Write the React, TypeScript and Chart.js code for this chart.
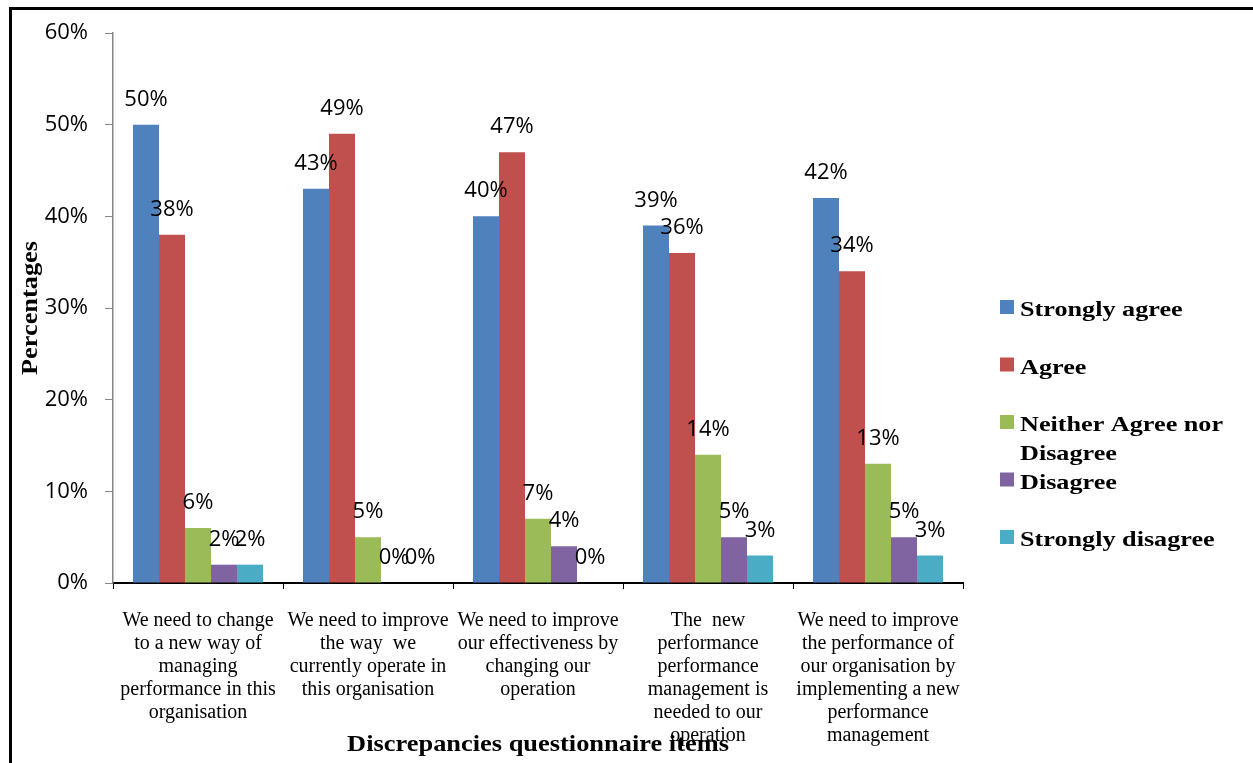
import React, { useEffect, useRef } from "react";
import { Chart, registerables } from "chart.js";

Chart.register(...registerables);

const categories: string[][] = [
  ["We need to change", "to a new way of", "managing", "performance in this", "organisation"],
  ["We need to improve", "the way  we", "currently operate in", "this organisation"],
  ["We need to improve", "our effectiveness by", "changing our", "operation"],
  ["The  new", "performance", "performance", "management is", "needed to our", "operation"],
  ["We need to improve", "the performance of", "our organisation by", "implementing a new", "performance", "management"],
];

const seriesNames = ["Strongly agree", "Agree", "Neither Agree nor Disagree", "Disagree", "Strongly disagree"];
const legendLines: string[][] = [["Strongly agree"], ["Agree"], ["Neither Agree nor", "Disagree"], ["Disagree"], ["Strongly disagree"]];

const stronglyAgree = [50, 43, 40, 39, 42];
const agree = [38, 49, 47, 36, 34];
const neither = [6, 5, 7, 14, 13];
const disagree = [2, 0, 4, 5, 5];
const stronglyDisagree = [2, 0, 0, 3, 3];

const colors = ["#4F81BD", "#C0504D", "#9BBB59", "#8064A2", "#4BACC6"];
const yTickLabels = ["0%", "10%", "20%", "30%", "40%", "50%", "60%"];

const xTitle = "Discrepancies questionnaire items";
const yTitle = "Percentages";

function drawStretched(ctx: CanvasRenderingContext2D, text: string, x: number, y: number, sx: number, rot = 0) {
  ctx.save();
  ctx.translate(x, y);
  if (rot) ctx.rotate(rot);
  ctx.scale(sx, 1);
  ctx.fillText(text, 0, 0);
  ctx.restore();
}

const decorPlugin = {
  id: "decor",
  afterDraw(chart: any) {
    const ctx: CanvasRenderingContext2D = chart.ctx;
    const area = chart.chartArea;
    ctx.save();
    // data labels
    ctx.font = '22px "Open Sans"';
    ctx.fillStyle = "#000";
    ctx.textAlign = "center";
    ctx.textBaseline = "alphabetic";
    chart.data.datasets.forEach((ds: any, i: number) => {
      const meta = chart.getDatasetMeta(i);
      meta.data.forEach((bar: any, j: number) => {
        ctx.fillText(ds.data[j] + "%", bar.x, bar.y - 19);
      });
    });

    // outer border
    ctx.fillStyle = "#000";
    ctx.fillRect(9, 7, chart.width - 9, 3);
    ctx.fillRect(9, 7, 3, chart.height - 7);

    // legend
    ctx.font = 'bold 22px "Liberation Serif"';
    ctx.textAlign = "left";
    const lx = area.right + 37;
    legendLines.forEach((lines, i) => {
      const base = 316 + i * 57.5;
      ctx.fillStyle = colors[i];
      ctx.fillRect(lx, base - 16, 14, 14);
      ctx.fillStyle = "#000";
      lines.forEach((ln, k) => {
        drawStretched(ctx, ln, lx + 20, base + k * 29, 1.19);
      });
    });

    // axis titles
    ctx.font = 'bold 24px "Liberation Serif"';
    ctx.textAlign = "center";
    drawStretched(ctx, xTitle, (area.left + area.right) / 2, 751, 1.1);
    ctx.font = 'bold 22.5px "Liberation Serif"';
    drawStretched(ctx, yTitle, 37, (area.top + area.bottom) / 2, 1.17, -Math.PI / 2);
    ctx.restore();
  },
};

export default function App() {
  const ref = useRef<HTMLCanvasElement>(null);
  useEffect(() => {
    if (!ref.current) return;
    const seriesData = [stronglyAgree, agree, neither, disagree, stronglyDisagree];
    const chart = new Chart(ref.current, {
      type: "bar",
      data: {
        labels: categories,
        datasets: seriesNames.map((name, i) => ({
          label: name,
          data: seriesData[i],
          backgroundColor: colors[i],
          borderWidth: 0,
          categoryPercentage: 0.765,
          barPercentage: 1,
        })),
      },
      options: {
        responsive: false,
        animation: false,
        devicePixelRatio: 1,
        layout: { padding: { top: 33, right: 290, left: 0, bottom: 0 } },
        plugins: { legend: { display: false }, tooltip: { enabled: false }, title: { display: false } },
        scales: {
          x: {
            grid: { display: true, drawOnChartArea: false, drawTicks: true, tickLength: 6, color: "#000", offset: true },
            border: { display: true, color: "#000", width: 2 },
            ticks: {
              font: { family: '"Liberation Serif"', size: 20, lineHeight: "23px" },
              color: "#000",
              padding: 20,
              autoSkip: false,
              maxRotation: 0,
              minRotation: 0,
            },
            afterFit: (s: any) => {
              s.height = 180;
            },
          },
          y: {
            min: 0,
            max: 60,
            ticks: {
              stepSize: 10,
              callback: (_v: any, idx: number) => yTickLabels[idx],
              font: { family: '"Open Sans"', size: 22 },
              color: "#000",
              padding: 17,
            },
            grid: { drawOnChartArea: false, tickLength: 8, color: "#868686" },
            border: { color: "#868686", width: 1.5 },
            afterFit: (s: any) => {
              s.width = 113;
            },
          },
        },
      },
      plugins: [decorPlugin],
    } as any);
    return () => chart.destroy();
  }, []);
  return (
    <div style={{ position: "fixed", left: 0, top: 0, width: 1253, height: 763, background: "#fff" }}>
      <canvas ref={ref} width={1253} height={763} />
    </div>
  );
}
